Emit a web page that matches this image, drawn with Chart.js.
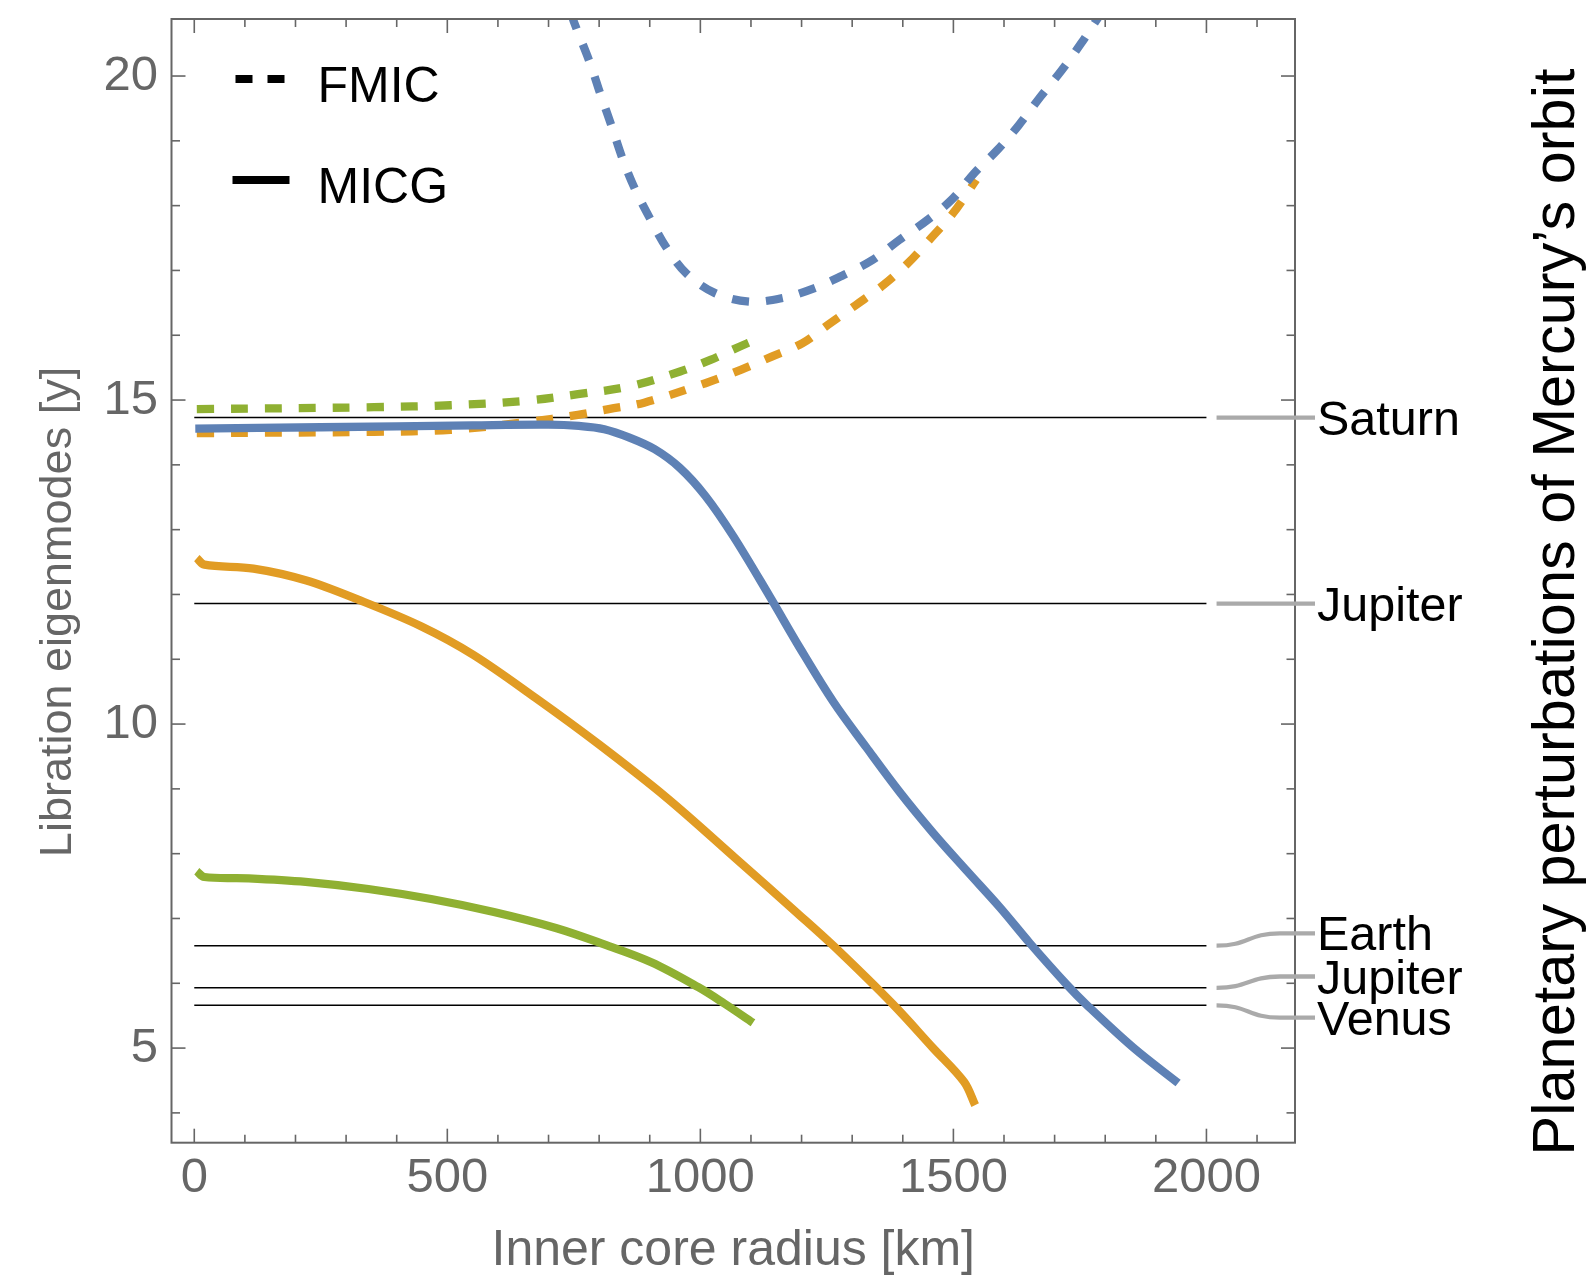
<!DOCTYPE html>
<html>
<head>
<meta charset="utf-8">
<script src="https://cdn.jsdelivr.net/npm/chart.js@4/dist/chart.umd.min.js"></script>
<style>
  html, body { margin: 0; padding: 0; background: #fff; }
  canvas { display: block; }
</style>
</head>
<body>
<canvas id="eigenChart" width="1588" height="1277" style="width:1588px;height:1277px"></canvas>
<script>
// values: inner core radius [km] -> libration period [y]
const micgBlueR = [2, 250, 550, 700, 760, 810, 860, 910, 960, 1010, 1065, 1137, 1197, 1263, 1328, 1394, 1460, 1526, 1592, 1651, 1724, 1763, 1855, 1944];
const micgBlueT = [14.56, 14.58, 14.61, 14.62, 14.6, 14.55, 14.42, 14.24, 13.95, 13.52, 12.9, 11.97, 11.17, 10.34, 9.64, 8.95, 8.32, 7.74, 7.17, 6.62, 5.98, 5.67, 5.01, 4.46];

const micgOrangeR = [5, 20, 117, 220, 324, 448, 551, 675, 799, 934, 1068, 1192, 1264, 1380, 1460, 1521, 1543];
const micgOrangeT = [12.56, 12.46, 12.40, 12.22, 11.92, 11.51, 11.07, 10.40, 9.69, 8.86, 7.94, 7.08, 6.57, 5.68, 5.0, 4.48, 4.12];

const micgGreenR = [5, 20, 107, 220, 344, 468, 592, 716, 810, 903, 996, 1047, 1104];
const micgGreenT = [7.73, 7.64, 7.62, 7.565, 7.455, 7.30, 7.10, 6.85, 6.60, 6.325, 5.94, 5.69, 5.39];

const fmicBlueR = [745, 750, 782, 803, 825, 846, 870, 902, 934, 973, 1029, 1096, 1160, 1223, 1283, 1340, 1393, 1449, 1499, 1541, 1587, 1629, 1672, 1714, 1753, 1785, 1795];
const fmicBlueT = [20.98, 20.84, 20.2, 19.71, 19.22, 18.73, 18.27, 17.78, 17.34, 16.95, 16.65, 16.52, 16.57, 16.72, 16.93, 17.16, 17.47, 17.78, 18.11, 18.5, 18.86, 19.24, 19.68, 20.09, 20.51, 20.89, 21.0];

const fmicOrangeR = [5, 355, 506, 657, 758, 819, 889, 1010, 1081, 1141, 1202, 1252, 1308, 1361, 1410, 1456, 1499, 1534, 1545];
const fmicOrangeT = [14.49, 14.51, 14.54, 14.66, 14.77, 14.86, 14.96, 15.26, 15.47, 15.67, 15.88, 16.16, 16.47, 16.77, 17.11, 17.5, 17.88, 18.27, 18.4];

const fmicGreenR = [5, 355, 506, 657, 758, 859, 960, 1020, 1076, 1100];
const fmicGreenT = [14.86, 14.89, 14.92, 14.99, 15.09, 15.21, 15.44, 15.62, 15.82, 15.9];

// planetary perturbation periods [y]
const planetNames = ['Saturn', 'Jupiter', 'Earth', 'Jupiter', 'Venus'];
const planetPeriods = [14.73, 11.86, 6.58, 5.93, 5.66];
const planetLineR = [0, 2000];

const xTickValues = [0, 500, 1000, 1500, 2000];
const yTickValues = [5, 10, 15, 20];

const FONT = "'Liberation Sans', Arial, Helvetica, sans-serif";
const BLUE = '#5E81B5', ORANGE = '#E19C24', GREEN = '#8FB032';

function pairs(rs, ts) {
    return rs.map((r, i) => ({ x: r, y: ts[i] }));
}

function curve(rs, ts, color, dashed) {
    return {
        data: pairs(rs, ts),
        borderColor: color,
        borderWidth: 8.3,
        borderDash: dashed ? [17, 17] : [],
        borderCapStyle: 'butt',
        pointRadius: 0,
        tension: 0.35,
        fill: false,
        order: dashed ? 5 : 1
    };
}

const datasets = [
    curve(micgBlueR, micgBlueT, BLUE, false),
    curve(micgOrangeR, micgOrangeT, ORANGE, false),
    curve(micgGreenR, micgGreenT, GREEN, false),
    curve(fmicBlueR, fmicBlueT, BLUE, true),
    curve(fmicOrangeR, fmicOrangeT, ORANGE, true),
    curve(fmicGreenR, fmicGreenT, GREEN, true)
];
planetPeriods.forEach(p => {
    datasets.push({
        data: planetLineR.map(r => ({ x: r, y: p })),
        borderColor: '#000',
        borderWidth: 1.4,
        pointRadius: 0,
        order: 10
    });
});

// pixel shifts of the labels so they don't overlap
const labelShift = [0, 0, -12.4, -11.3, 12.4];

const framePlugin = {
    id: 'frame',
    afterDatasetsDraw(chart) {
        const { ctx, chartArea: a, scales: { x, y } } = chart;
        ctx.save();

        function seg(x1, y1, x2, y2) {
            ctx.beginPath();
            ctx.moveTo(x1, y1);
            ctx.lineTo(x2, y2);
            ctx.stroke();
        }

        // ticks pointing inward on all four sides
        ctx.strokeStyle = '#666';
        ctx.lineWidth = 1.6;
        for (let v = 0; v <= 2100; v += 100) {
            const px = x.getPixelForValue(v);
            const len = v % 500 === 0 ? 14 : 8;
            seg(px, a.bottom, px, a.bottom - len);
            seg(px, a.top, px, a.top + len);
        }
        for (let v = 4; v <= 20; v++) {
            const py = y.getPixelForValue(v);
            const len = v % 5 === 0 ? 14 : 8.5;
            seg(a.left, py, a.left + len, py);
            seg(a.right, py, a.right - len, py);
        }
        ctx.lineWidth = 2;
        ctx.strokeRect(a.left, a.top, a.right - a.left, a.bottom - a.top);

        // planet labels with gray leader lines
        const labelX = a.right + 22;
        ctx.font = '48.5px ' + FONT;
        ctx.textAlign = 'left';
        ctx.textBaseline = 'alphabetic';
        planetPeriods.forEach((p, i) => {
            const y0 = y.getPixelForValue(p);
            const y1 = y0 + labelShift[i];
            const x0 = x.getPixelForValue(2020);
            const x1 = a.right - 15;
            ctx.strokeStyle = '#aaa';
            ctx.lineWidth = 4.3;
            ctx.beginPath();
            ctx.moveTo(x0, y0);
            ctx.bezierCurveTo(x0 + 32, y0, x1 - 32, y1, x1, y1);
            ctx.lineTo(labelX - 2, y1);
            ctx.stroke();
            ctx.fillStyle = '#000';
            ctx.fillText(planetNames[i], labelX, y1 + 17);
        });

        // legend inside the frame
        ctx.strokeStyle = '#000';
        ctx.lineWidth = 8;
        ctx.setLineDash([17, 15]);
        seg(a.left + 64, a.top + 60, a.left + 114, a.top + 60);
        ctx.setLineDash([]);
        seg(a.left + 61, a.top + 161, a.left + 118, a.top + 161);
        ctx.fillStyle = '#000';
        ctx.font = '50px ' + FONT;
        ctx.fillText('FMIC', a.left + 146, a.top + 83);
        ctx.fillText('MICG', a.left + 146, a.top + 184);

        // y axis title
        ctx.fillStyle = '#666';
        ctx.font = '45px ' + FONT;
        ctx.textAlign = 'center';
        ctx.save();
        ctx.translate(71, 612);
        ctx.rotate(-Math.PI / 2);
        ctx.fillText('Libration eigenmodes [y]', 0, 0);
        ctx.restore();

        // right title
        ctx.fillStyle = '#000';
        ctx.font = '59.5px ' + FONT;
        ctx.save();
        ctx.translate(1574, 612);
        ctx.rotate(-Math.PI / 2);
        ctx.fillText('Planetary perturbations of Mercury\u2019s orbit', 0, 0);
        ctx.restore();

        ctx.restore();
    }
};

const ctx = document.getElementById('eigenChart').getContext('2d');
const chart = new Chart(ctx, {
    type: 'line',
    data: { datasets: datasets },
    options: {
        responsive: false,
        animation: false,
        devicePixelRatio: 1,
        layout: { padding: { left: 0, right: 293, top: 19, bottom: 0 } },
        plugins: {
            legend: { display: false },
            tooltip: { enabled: false }
        },
        scales: {
            x: {
                type: 'linear',
                min: -45,
                max: 2175,
                grid: { display: false, drawTicks: false },
                border: { display: false },
                afterBuildTicks: s => { s.ticks = xTickValues.map(v => ({ value: v })); },
                afterFit: s => {
                    s.height = 134.3;
                    s.paddingLeft = 0;
                    s.paddingRight = 0;
                },
                ticks: {
                    color: '#666',
                    font: { size: 49, family: FONT },
                    padding: 6,
                    maxRotation: 0,
                    autoSkip: false,
                    callback: v => String(v)
                },
                title: {
                    display: true,
                    text: 'Inner core radius [km]',
                    color: '#666',
                    font: { size: 50, family: FONT, lineHeight: 1 },
                    padding: { top: 0, bottom: 1 }
                }
            },
            y: {
                type: 'linear',
                min: 3.54,
                max: 20.88,
                grid: { display: false, drawTicks: false },
                border: { display: false },
                afterBuildTicks: s => { s.ticks = yTickValues.map(v => ({ value: v })); },
                afterFit: s => {
                    s.width = 171.5;
                    s.paddingTop = 0;
                    s.paddingBottom = 0;
                },
                ticks: {
                    color: '#666',
                    font: { size: 49, family: FONT },
                    padding: 13.5,
                    autoSkip: false,
                    callback: v => String(v)
                }
            }
        }
    },
    plugins: [framePlugin]
});
</script>
</body>
</html>
